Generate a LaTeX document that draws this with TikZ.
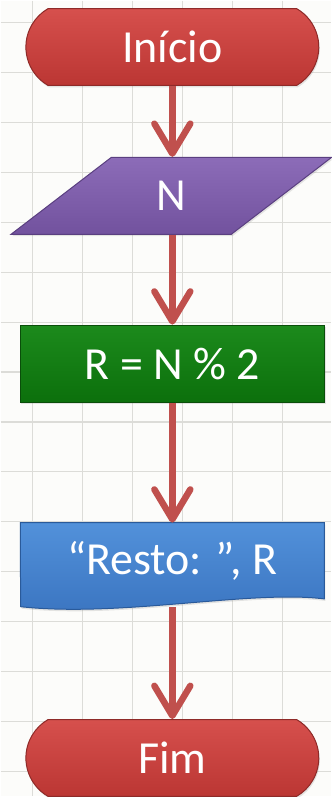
\documentclass[tikz,border=0pt]{standalone}
\usepackage{fontspec}
\setmainfont{Carlito}
\usetikzlibrary{shapes.geometric, shapes.misc, arrows.meta, positioning, shadows, backgrounds}

\definecolor{paper}{HTML}{FCFCFA}
\definecolor{gridgray}{HTML}{DCDCD8}
\definecolor{arrowred}{HTML}{C0504D}
\definecolor{termtop}{HTML}{D6504D}
\definecolor{termbot}{HTML}{BB3633}
\definecolor{termline}{HTML}{8E2A28}
\definecolor{readtop}{HTML}{8C6CB8}
\definecolor{readbot}{HTML}{72529E}
\definecolor{readline}{HTML}{5A3F80}
\definecolor{calctop}{HTML}{1C8A1C}
\definecolor{calcbot}{HTML}{0C700C}
\definecolor{calcline}{HTML}{0A4E0A}
\definecolor{outtop}{HTML}{5291DA}
\definecolor{outbot}{HTML}{3A74C0}
\definecolor{outline}{HTML}{2A5A9A}

\begin{document}
\begin{tikzpicture}[
    x=1pt, y=-1pt,
    terminal/.style={rounded rectangle, rounded rectangle arc length=120, minimum width=300pt, minimum height=77pt,
        top color=termtop, bottom color=termbot, draw=termline, line width=1pt, text=white,
        drop shadow={opacity=0.2, shadow xshift=1pt, shadow yshift=-2pt}},
    inputbox/.style={trapezium, trapezium left angle=50, trapezium right angle=130, trapezium stretches=true,
        minimum width=321pt, minimum height=77pt,
        top color=readtop, bottom color=readbot, draw=readline, line width=1pt, text=white,
        drop shadow={opacity=0.2, shadow xshift=1pt, shadow yshift=-2pt}},
    process/.style={rectangle, minimum width=305pt, minimum height=77pt,
        top color=calctop, bottom color=calcbot, draw=calcline, line width=1pt, text=white,
        drop shadow={opacity=0.2, shadow xshift=1pt, shadow yshift=-2pt}},
    docbox/.style={rectangle, minimum width=304pt, minimum height=72pt, text=white},
    docfill/.style={top color=outtop, bottom color=outbot, draw=outline, line width=1pt,
        drop shadow={opacity=0.2, shadow xshift=1pt, shadow yshift=-2pt}},
    arrow/.style={draw=arrowred, line width=6.5pt, -{Straight Barb[length=30pt, width=36pt, round]}},
    gridline/.style={draw=gridgray, line width=1.2pt},
    every node/.append style={font=\fontsize{46}{50}\selectfont}
]
    % Background grid
    \begin{scope}[on background layer]
        \fill[paper] (0,0) rectangle (331,797);
        \foreach \x in {32,82,...,282} {
            \draw[gridline] (\x,0) -- (\x,797);
        }
        \foreach \y in {22,72,...,772} {
            \draw[gridline] (0,\y) -- (331,\y);
        }
    \end{scope}
    \useasboundingbox (0,0) rectangle (331,797);

    % Flowchart
    \node[terminal] at (172,46.5) (start) {Início};
    \node[inputbox] at (171,195.5) (read) {N};
    \node[process] at (172,363.5) (calc) {R = N \% 2};
    \node[docbox] at (172,561) (out) {“Resto: ”, R};
    \node[terminal] at (172,758.5) (stop) {Fim};

    % Document shape
    \begin{scope}[on background layer]
        \path[docfill] ([yshift=2pt]out.north west) -- ([yshift=2pt]out.north east) -- ([yshift=-2pt]out.south east)
            .. controls (250,590) and (120,618) .. (20,607) -- cycle;
    \end{scope}

    % Connections
    \draw[arrow] (start.south) -- (start.south |- read.north);
    \draw[arrow] (start.south |- read.south) -- (start.south |- calc.north);
    \draw[arrow] (calc.south) -- ([yshift=2pt]out.north);
    \draw[arrow] ([yshift=-10pt]out.south) -- (stop.north);

\end{tikzpicture}
\end{document}
